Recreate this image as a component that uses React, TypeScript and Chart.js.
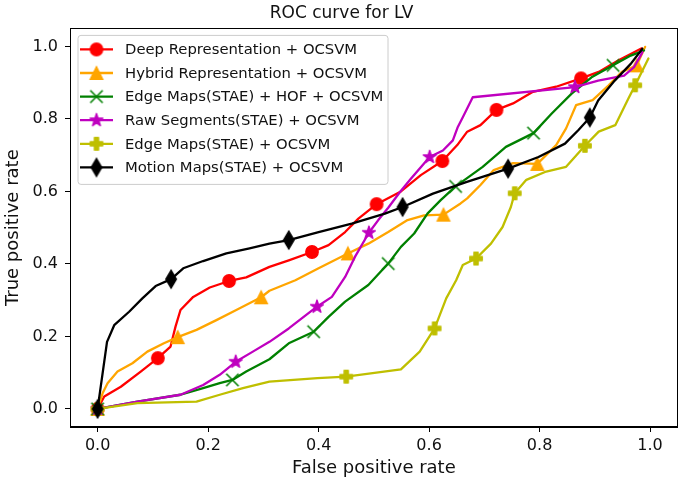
import React, { useEffect, useRef } from "react";
import { Chart, registerables } from "chart.js";

Chart.register(...registerables);

const TITLE = "ROC curve for LV";
const X_LABEL = "False positive rate";
const Y_LABEL = "True positive rate";
const TICKS = [0, 0.2, 0.4, 0.6, 0.8, 1.0];

const NAMES = [
  "Deep Representation + OCSVM",
  "Hybrid Representation + OCSVM",
  "Edge Maps(STAE) + HOF + OCSVM",
  "Raw Segments(STAE) + OCSVM",
  "Edge Maps(STAE) + OCSVM",
  "Motion Maps(STAE) + OCSVM",
];

const deepX = [0, 0.012, 0.042, 0.078, 0.109, 0.132, 0.141, 0.15, 0.173, 0.203, 0.238, 0.269, 0.311, 0.346, 0.388, 0.418, 0.448, 0.472, 0.505, 0.549, 0.585, 0.624, 0.651, 0.669, 0.693, 0.722, 0.752, 0.788, 0.83, 0.875, 0.907, 0.943, 0.985];
const deepY = [0, 0.034, 0.061, 0.103, 0.14, 0.172, 0.227, 0.273, 0.309, 0.335, 0.353, 0.363, 0.392, 0.41, 0.433, 0.452, 0.488, 0.525, 0.565, 0.6, 0.645, 0.684, 0.728, 0.765, 0.783, 0.825, 0.843, 0.875, 0.889, 0.912, 0.93, 0.962, 0.995];
const deepMarks = [0, 4, 10, 14, 18, 21, 25, 29];

const hybridX = [0, 0.009, 0.018, 0.036, 0.063, 0.09, 0.12, 0.145, 0.179, 0.215, 0.251, 0.296, 0.311, 0.358, 0.4, 0.453, 0.49, 0.526, 0.561, 0.591, 0.626, 0.657, 0.669, 0.693, 0.717, 0.752, 0.796, 0.83, 0.848, 0.866, 0.896, 0.925, 0.949, 0.976, 0.991];
const hybridY = [0, 0.043, 0.071, 0.103, 0.126, 0.158, 0.181, 0.198, 0.218, 0.245, 0.273, 0.308, 0.326, 0.355, 0.388, 0.429, 0.456, 0.488, 0.521, 0.534, 0.536, 0.567, 0.581, 0.618, 0.659, 0.678, 0.676, 0.728, 0.774, 0.838, 0.852, 0.893, 0.93, 0.948, 0.999];
const hybridMarks = [0, 7, 11, 15, 20, 26, 33];

const hofX = [0, 0.072, 0.15, 0.191, 0.221, 0.244, 0.269, 0.311, 0.346, 0.391, 0.418, 0.448, 0.49, 0.526, 0.549, 0.573, 0.597, 0.621, 0.648, 0.697, 0.739, 0.789, 0.822, 0.858, 0.894, 0.933, 0.965, 0.989];
const hofY = [0, 0.02, 0.039, 0.057, 0.071, 0.08, 0.103, 0.137, 0.181, 0.213, 0.254, 0.296, 0.342, 0.401, 0.447, 0.484, 0.539, 0.576, 0.614, 0.668, 0.723, 0.761, 0.815, 0.87, 0.915, 0.948, 0.975, 0.989];
const hofMarks = [0, 5, 9, 13, 18, 21, 25];

const rawX = [0, 0.072, 0.15, 0.191, 0.221, 0.25, 0.281, 0.311, 0.346, 0.397, 0.424, 0.448, 0.466, 0.491, 0.508, 0.526, 0.548, 0.567, 0.601, 0.625, 0.643, 0.652, 0.661, 0.679, 0.864, 0.906, 0.953, 0.971, 0.986];
const rawY = [0, 0.02, 0.039, 0.066, 0.094, 0.13, 0.158, 0.185, 0.222, 0.282, 0.309, 0.364, 0.42, 0.486, 0.521, 0.555, 0.6, 0.635, 0.695, 0.713, 0.741, 0.778, 0.805, 0.86, 0.888, 0.906, 0.92, 0.943, 0.984];
const rawMarks = [0, 5, 9, 13, 18, 24];

const edgeX = [0, 0.072, 0.179, 0.221, 0.263, 0.311, 0.398, 0.45, 0.549, 0.583, 0.61, 0.631, 0.649, 0.661, 0.685, 0.712, 0.733, 0.748, 0.755, 0.776, 0.812, 0.848, 0.882, 0.907, 0.937, 0.961, 0.973, 0.997];
const edgeY = [0, 0.016, 0.02, 0.039, 0.057, 0.075, 0.085, 0.089, 0.109, 0.158, 0.222, 0.305, 0.355, 0.397, 0.415, 0.456, 0.502, 0.557, 0.595, 0.632, 0.655, 0.668, 0.726, 0.765, 0.783, 0.857, 0.893, 0.967];
const edgeMarks = [0, 7, 10, 14, 18, 22, 26];

const motionX = [0, 0.017, 0.03, 0.057, 0.081, 0.105, 0.133, 0.155, 0.191, 0.233, 0.275, 0.311, 0.346, 0.4, 0.46, 0.52, 0.552, 0.607, 0.667, 0.743, 0.798, 0.846, 0.87, 0.891, 0.906, 0.936, 0.965, 0.986];
const motionY = [0, 0.185, 0.231, 0.268, 0.305, 0.339, 0.358, 0.388, 0.408, 0.429, 0.443, 0.456, 0.466, 0.488, 0.511, 0.539, 0.557, 0.594, 0.626, 0.663, 0.695, 0.732, 0.769, 0.804, 0.851, 0.906, 0.952, 0.994];
const motionMarks = [0, 6, 12, 16, 19, 23];

const COLORS = ["#ff0000", "#ffa500", "#008000", "#bf00bf", "#bfbf00", "#000000"];
const MARKERS = ["circle", "triangle", "x", "star", "plus", "thindiamond"];

const FONT = "'DejaVu Sans', sans-serif";

function makeMarker(kind: string, color: string): HTMLCanvasElement {
  const S = 24;
  const c = document.createElement("canvas");
  c.width = S;
  c.height = S;
  const g = c.getContext("2d")!;
  g.translate(S / 2, S / 2);
  g.fillStyle = color;
  g.strokeStyle = color;
  g.lineWidth = 1.4;
  g.lineJoin = "round";
  const ms = 12.4;
  const poly = (pts: number[][]) => {
    g.beginPath();
    pts.forEach((p, i) => (i ? g.lineTo(p[0], p[1]) : g.moveTo(p[0], p[1])));
    g.closePath();
    g.fill();
    g.stroke();
  };
  if (kind === "circle") {
    g.beginPath();
    g.arc(0, 0, ms / 2, 0, Math.PI * 2);
    g.fill();
    g.stroke();
  } else if (kind === "triangle") {
    g.lineJoin = "miter";
    poly([[0, -ms / 2], [-ms / 2, ms / 2], [ms / 2, ms / 2]]);
  } else if (kind === "x") {
    g.lineWidth = 1.6;
    g.beginPath();
    g.moveTo(-ms / 2, -ms / 2);
    g.lineTo(ms / 2, ms / 2);
    g.moveTo(-ms / 2, ms / 2);
    g.lineTo(ms / 2, -ms / 2);
    g.stroke();
  } else if (kind === "star") {
    const pts: number[][] = [];
    const ro = ms / 2 + 0.5;
    const ri = ro * 0.381966;
    for (let i = 0; i < 10; i++) {
      const r = i % 2 === 0 ? ro : ri;
      const a = -Math.PI / 2 + (i * Math.PI) / 5;
      pts.push([r * Math.cos(a), r * Math.sin(a)]);
    }
    poly(pts);
  } else if (kind === "plus") {
    const u = ms / 6;
    poly([
      [-u, -3 * u], [u, -3 * u], [u, -u], [3 * u, -u], [3 * u, u], [u, u],
      [u, 3 * u], [-u, 3 * u], [-u, u], [-3 * u, u], [-3 * u, -u], [-u, -u],
    ]);
  } else if (kind === "thindiamond") {
    const h = (ms * Math.SQRT2) / 2;
    const w = h * 0.6;
    g.lineJoin = "miter";
    poly([[0, -h], [w, 0], [0, h], [-w, 0]]);
  }
  return c;
}

export default function App() {
  const ref = useRef<HTMLCanvasElement | null>(null);

  useEffect(() => {
    document.body.style.margin = "0";
    document.body.style.overflow = "hidden";
    const canvas = ref.current;
    if (!canvas) return;

    const series = [
      { xs: deepX, ys: deepY, marks: deepMarks },
      { xs: hybridX, ys: hybridY, marks: hybridMarks },
      { xs: hofX, ys: hofY, marks: hofMarks },
      { xs: rawX, ys: rawY, marks: rawMarks },
      { xs: edgeX, ys: edgeY, marks: edgeMarks },
      { xs: motionX, ys: motionY, marks: motionMarks },
    ];
    const markerImgs = MARKERS.map((m, i) => makeMarker(m, COLORS[i]));

    const datasets = series.map((s, i) => ({
      label: NAMES[i],
      data: s.xs.map((x, j) => ({ x, y: s.ys[j] })),
      borderColor: COLORS[i],
      backgroundColor: COLORS[i],
      borderWidth: 2.3,
      borderJoinStyle: "round",
      borderCapStyle: "round",
      tension: 0,
      order: series.length - i,
      pointStyle: markerImgs[i] as any,
      pointRadius: (ctx: any) => (s.marks.includes(ctx.dataIndex) ? 5 : 0),
      pointHoverRadius: 0,
      showLine: true,
      fill: false,
    }));

    const framePlugin = {
      id: "frame",
      afterDraw(chart: any) {
        const { ctx, chartArea: a } = chart;
        ctx.save();
        ctx.strokeStyle = "#000";
        ctx.lineWidth = 1;
        const l = Math.round(a.left) + 0.5;
        const t = Math.round(a.top) + 0.5;
        const r = Math.round(a.right) - 0.5;
        const b = Math.round(a.bottom) - 0.5;
        ctx.strokeRect(l, t, r - l, b - t);
        ctx.restore();
      },
    };

    const legendPlugin = {
      id: "mplLegend",
      afterDraw(chart: any) {
        const { ctx, chartArea: a } = chart;
        const bx = a.left + 8;
        const by = a.top + 7;
        const bw = 310;
        const bh = 149;
        ctx.save();
        ctx.beginPath();
        const rr = 3;
        ctx.moveTo(bx + rr, by);
        ctx.lineTo(bx + bw - rr, by);
        ctx.quadraticCurveTo(bx + bw, by, bx + bw, by + rr);
        ctx.lineTo(bx + bw, by + bh - rr);
        ctx.quadraticCurveTo(bx + bw, by + bh, bx + bw - rr, by + bh);
        ctx.lineTo(bx + rr, by + bh);
        ctx.quadraticCurveTo(bx, by + bh, bx, by + bh - rr);
        ctx.lineTo(bx, by + rr);
        ctx.quadraticCurveTo(bx, by, bx + rr, by);
        ctx.closePath();
        ctx.fillStyle = "rgba(255,255,255,0.8)";
        ctx.fill();
        ctx.strokeStyle = "#cccccc";
        ctx.lineWidth = 1;
        ctx.stroke();
        ctx.font = `14.8px ${FONT}`;
        ctx.textBaseline = "middle";
        ctx.textAlign = "left";
        NAMES.forEach((name, i) => {
          const y = by + 14 + i * 23.6;
          ctx.strokeStyle = COLORS[i];
          ctx.lineWidth = 2.3;
          ctx.beginPath();
          ctx.moveTo(bx + 2, y);
          ctx.lineTo(bx + 35, y);
          ctx.stroke();
          const img = markerImgs[i];
          ctx.drawImage(img, bx + 18.5 - img.width / 2, y - img.height / 2);
          ctx.fillStyle = "#111";
          ctx.fillText(name, bx + 47, y + 1);
        });
        ctx.restore();
      },
    };

    const axisCommon = () => ({
      type: "linear" as const,
      min: -0.05,
      max: 1.05,
      afterBuildTicks: (axis: any) => {
        axis.ticks = TICKS.map((v) => ({ value: v }));
      },
      grid: {
        drawOnChartArea: false,
        drawTicks: true,
        tickLength: 5,
        color: "#000",
        tickWidth: 1,
      },
      border: { display: true, color: "#000", width: 1 },
    });

    const chart = new Chart(canvas, {
      type: "line",
      data: { datasets: datasets as any },
      plugins: [framePlugin, legendPlugin],
      options: {
        responsive: false,
        animation: false,
        devicePixelRatio: 1,
        events: [],
        layout: { padding: { left: 0, right: 2, top: 0, bottom: 0 } },
        plugins: {
          legend: { display: false },
          tooltip: { enabled: false },
          title: {
            display: true,
            text: TITLE,
            color: "#111",
            font: { family: FONT, size: 17, weight: "normal" },
            padding: { top: 3, bottom: 5 },
          },
        },
        scales: {
          x: {
            ...axisCommon(),
            position: "bottom",
            afterFit: (s: any) => {
              s.height = 59;
            },
            ticks: {
              color: "#111",
              font: { family: FONT, size: 16 },
              padding: 4,
              maxRotation: 0,
              callback: (v: any) => Number(v).toFixed(1),
            },
            title: {
              display: true,
              text: X_LABEL,
              color: "#111",
              font: { family: FONT, size: 18 },
              padding: { top: 0, bottom: 7 },
            },
          },
          y: {
            ...axisCommon(),
            position: "left",
            afterFit: (s: any) => {
              s.width = 70;
            },
            ticks: {
              color: "#111",
              font: { family: FONT, size: 16 },
              padding: 7,
              callback: (v: any) => Number(v).toFixed(1),
            },
            title: {
              display: true,
              text: Y_LABEL,
              color: "#111",
              font: { family: FONT, size: 18 },
              padding: { top: 3, bottom: 0 },
            },
          },
        },
      } as any,
    });
    return () => chart.destroy();
  }, []);

  return (
    <div style={{ position: "fixed", left: 0, top: 0, width: 685, height: 486, background: "#fff" }}>
      <canvas ref={ref} width={685} height={486} style={{ display: "block", width: 685, height: 486 }} />
    </div>
  );
}
